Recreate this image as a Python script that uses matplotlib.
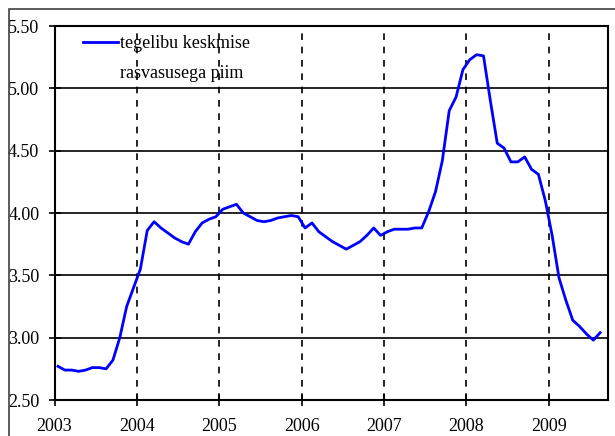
import matplotlib
matplotlib.use("Agg")
import matplotlib.pyplot as plt
from matplotlib.patches import Rectangle
import numpy as np

# monthly values, Jan 2003 .. Aug 2009
start_year = 2003
prices = [
    2.77, 2.74, 2.74, 2.73, 2.74, 2.76, 2.76, 2.75, 2.82, 3.00, 3.25, 3.40,
    3.55, 3.86, 3.93, 3.88, 3.84, 3.80, 3.77, 3.75, 3.85, 3.92, 3.95, 3.97,
    4.03, 4.05, 4.07, 4.00, 3.97, 3.94, 3.93, 3.94, 3.96, 3.97, 3.98, 3.97,
    3.88, 3.92, 3.85, 3.81, 3.77, 3.74, 3.71, 3.74, 3.77, 3.82, 3.88, 3.82,
    3.85, 3.87, 3.87, 3.87, 3.88, 3.88, 4.01, 4.17, 4.42, 4.82, 4.93, 5.15,
    5.23, 5.27, 5.26, 4.90, 4.56, 4.52, 4.41, 4.41, 4.45, 4.35, 4.31, 4.10,
    3.82, 3.48, 3.30, 3.14, 3.09, 3.03, 2.98, 3.04,
]
years = [2003, 2004, 2005, 2006, 2007, 2008, 2009]
y_ticks = [2.50, 3.00, 3.50, 4.00, 4.50, 5.00, 5.50]
legend_lines = ["tegelibu keskmise", "rasvasusega piim"]

t = start_year + (np.arange(len(prices)) + 0.5) / 12.0

plt.rcParams['font.family'] = ['Liberation Serif', 'DejaVu Serif']
FS = 13

fig = plt.figure(figsize=(6.15, 4.36), dpi=100)
ax = fig.add_axes([54.6 / 615, 1 - 400 / 436, (608 - 54.6) / 615, (400 - 26) / 436])

ax.plot(t, prices, color='#0000ff', lw=2, label=legend_lines[0], zorder=3)

ax.set_xlim(2003, 2009.72)
ax.set_ylim(2.5, 5.5)
ax.set_xticks(years)
ax.set_xticklabels([str(y) for y in years], fontsize=FS)
ax.set_yticks(y_ticks)
ax.set_yticklabels([f"{v:.2f}" for v in y_ticks], fontsize=FS)

# gridlines: solid horizontal, dashed vertical
for v in y_ticks[1:-1]:
    ax.axhline(v, color='black', lw=1.2, zorder=1)
for y in years[1:]:
    ax.axvline(y, color='black', lw=1.2, ls=(0, (4, 4)), zorder=1)

ax.tick_params(axis='both', direction='inout', length=8, width=1.2, colors='black')
ax.tick_params(axis='y', pad=7)
ax.tick_params(axis='x', pad=9)
for s in ax.spines.values():
    s.set_linewidth(1.5)
    s.set_color('black')

leg = ax.legend(loc='upper left', bbox_to_anchor=(0.051, 0.975), frameon=False,
                fontsize=FS, handlelength=1.94, handletextpad=0.12,
                borderaxespad=0, borderpad=0)
ax.text(0.118, 0.874, legend_lines[1], transform=ax.transAxes,
        fontsize=FS, va='center', ha='left')

# outer chart border
fig.add_artist(Rectangle((9 / 615, -0.2), 1.2, 1.2 + (1 - 9 / 436) - 1,
                         transform=fig.transFigure, fill=False,
                         edgecolor='#404040', lw=1.2))

fig.savefig("out.png", dpi=100)
